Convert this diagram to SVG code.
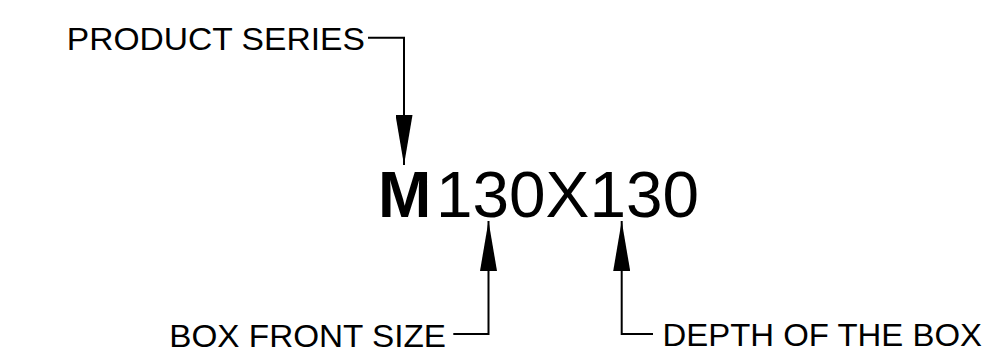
<svg xmlns="http://www.w3.org/2000/svg" width="997" height="358" viewBox="0 0 997 358">
<style>
.lbl{font-family:"Liberation Sans",Arial,sans-serif;font-size:32px;fill:#000}
.big{font-family:"Liberation Sans",Arial,sans-serif;font-size:64px;fill:#000}
.ln{fill:none;stroke:#000;stroke-width:2}
</style>
<defs>
<marker id="ah" viewBox="0 0 50 17" refX="50" refY="8.5" markerWidth="50" markerHeight="17" markerUnits="userSpaceOnUse" orient="auto">
<path d="M0,0 L50,8.5 L0,17 Z" fill="#000"/>
</marker>
</defs>
<g id="code">
<text class="big" x="378" y="217" font-weight="bold">M</text>
<text class="big" x="436" y="217" textLength="263" lengthAdjust="spacingAndGlyphs">130X130</text>
</g>
<g id="product-series"><text class="lbl" x="66.8" y="49.5" textLength="298" lengthAdjust="spacingAndGlyphs">PRODUCT SERIES</text></g>
<g id="box-front-size"><text class="lbl" x="169.3" y="346.5" textLength="276.7" lengthAdjust="spacingAndGlyphs">BOX FRONT SIZE</text></g>
<g id="depth-of-box"><text class="lbl" x="662.5" y="346" textLength="319.5" lengthAdjust="spacingAndGlyphs">DEPTH OF THE BOX</text></g>
<g id="connectors">
<polyline class="ln" points="368,37.7 404,37.7 404,165" marker-end="url(#ah)"/>
<polyline class="ln" points="453.3,334 488.5,334 488.5,221" marker-end="url(#ah)"/>
<polyline class="ln" points="653,334 621.7,334 621.7,221" marker-end="url(#ah)"/>
</g>
</svg>
